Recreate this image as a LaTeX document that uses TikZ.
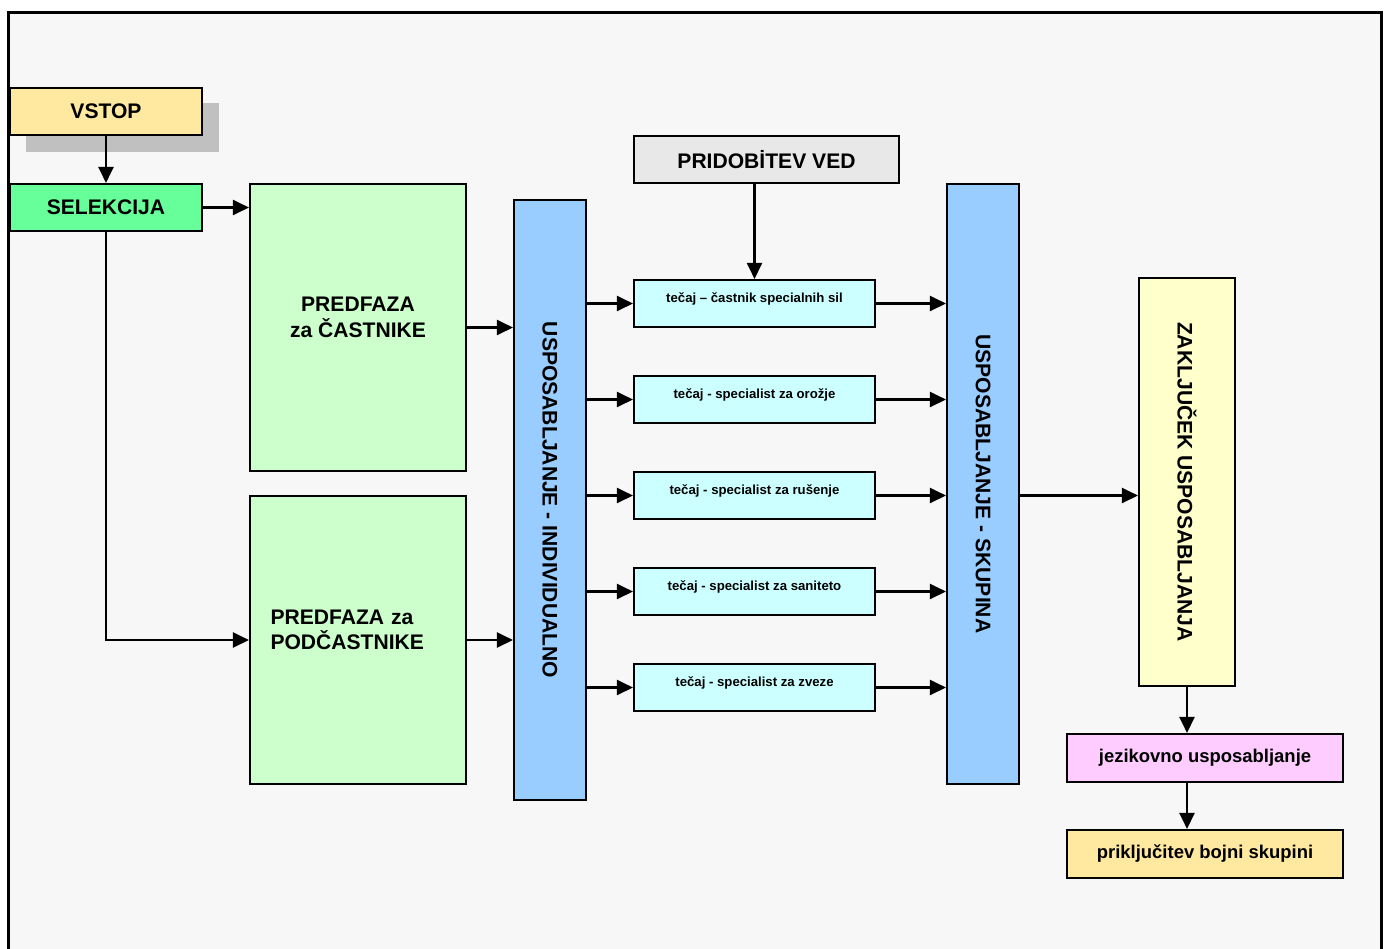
\documentclass[tikz,border=0pt]{standalone}
\usepackage{fontspec}
\setmainfont{Liberation Sans}
\usetikzlibrary{arrows.meta}
\definecolor{bgcol}{RGB}{247,247,247}
\definecolor{shadecol}{RGB}{192,192,192}
\definecolor{vstopcol}{RGB}{255,233,160}
\definecolor{selcol}{RGB}{102,255,153}
\definecolor{predcol}{RGB}{204,255,204}
\definecolor{bluecol}{RGB}{153,204,255}
\definecolor{greycol}{RGB}{232,232,232}
\definecolor{tecol}{RGB}{204,255,255}
\definecolor{zaklcol}{RGB}{255,255,204}
\definecolor{jezcol}{RGB}{255,204,255}
\begin{document}
\begin{tikzpicture}[
  box/.style={draw, line width=1.2pt, inner sep=0pt, font=\bfseries\fontsize{12}{14.5}\selectfont},
  pred/.style={box, fill=predcol, minimum width=4.32cm, text depth=11.5pt},
  small/.style={box, fill=tecol, minimum width=4.82cm, minimum height=0.94cm, text height=5.5pt, text depth=7pt, font=\bfseries\fontsize{7.5}{9}\selectfont},
  low/.style={box, minimum width=5.52cm, minimum height=0.96cm, font=\bfseries\fontsize{10.5}{12}\selectfont},
  conn/.style={line width=1.3pt, -{Triangle[length=0.32cm,width=0.3cm]}}]
\clip (0,0) rectangle (27.74,-18.96);
\fill[bgcol] (0.17,-0.25) rectangle (27.63,-19.2);
\draw[line width=1.8pt] (0.17,-19.2) -- (0.17,-0.25) -- (27.63,-0.25) -- (27.63,-19.2);
\fill[shadecol] (0.52,-2.06) rectangle (4.38,-3.04);
\node[box, fill=vstopcol, minimum width=3.84cm, minimum height=0.94cm] (vstop) at (2.12,-2.23) {VSTOP};
\node[box, fill=selcol, minimum width=3.84cm, minimum height=0.94cm] (sel) at (2.12,-4.15) {SELEKCIJA};
\node[pred, minimum height=5.74cm, align=center] (pred1) at (7.16,-6.55) {PREDFAZA\\za ČASTNIKE};
\node[pred, minimum height=5.76cm, text width=3.5cm, text depth=26pt, align=left] (pred2) at (7.16,-12.8) {PREDFAZA za\\PODČASTNIKE};
\node[box, fill=bluecol, minimum width=1.44cm, minimum height=12cm] (indiv) at (11,-10) {\rotatebox{-90}{USPOSABLJANJE - INDIVIDUALNO}};
\node[box, fill=greycol, minimum width=5.3cm, minimum height=0.94cm] (pridob) at (15.33,-3.19) {PRIDOBİTEV VED};
\node[small] (tec1) at (15.09,-6.07) {tečaj – častnik specialnih sil};
\node[small] (tec2) at (15.09,-7.99) {tečaj - specialist za orožje};
\node[small] (tec3) at (15.09,-9.91) {tečaj - specialist za rušenje};
\node[small] (tec4) at (15.09,-11.83) {tečaj - specialist za saniteto};
\node[small] (tec5) at (15.09,-13.75) {tečaj - specialist za zveze};
\node[box, fill=bluecol, minimum width=1.44cm, minimum height=12cm] (skup) at (19.66,-9.68) {\rotatebox{-90}{USPOSABLJANJE - SKUPINA}};
\node[box, fill=zaklcol, minimum width=1.92cm, minimum height=8.16cm] (zakl) at (23.74,-9.64) {\rotatebox{-90}{ZAKLJUČEK USPOSABLJANJA}};
\node[low, fill=jezcol] (jez) at (24.1,-15.16) {jezikovno usposabljanje};
\node[low, fill=vstopcol] (prik) at (24.1,-17.08) {priključitev bojni skupini};
\draw[conn] (vstop) -- (sel);
\draw[conn] (sel.east) -- (sel.east -| pred1.west);
\draw[conn] (sel.south) |- (pred2.west);
\draw[conn] (pred1.east) -- (pred1.east -| indiv.west);
\draw[conn] (pred2.east) -- (pred2.east -| indiv.west);
\draw[conn] (pridob.south -| tec1.north) -- (tec1.north);
\foreach \t in {tec1,tec2,tec3,tec4,tec5}{
  \draw[conn] (\t.west -| indiv.east) -- (\t.west);
  \draw[conn] (\t.east) -- (\t.east -| skup.west);
}
\draw[conn] (tec3.east -| skup.east) -- (tec3.east -| zakl.west);
\draw[conn] (zakl.south) -- (zakl.south |- jez.north);
\draw[conn] (jez.south -| zakl.south) -- (zakl.south |- prik.north);
\end{tikzpicture}
\end{document}
